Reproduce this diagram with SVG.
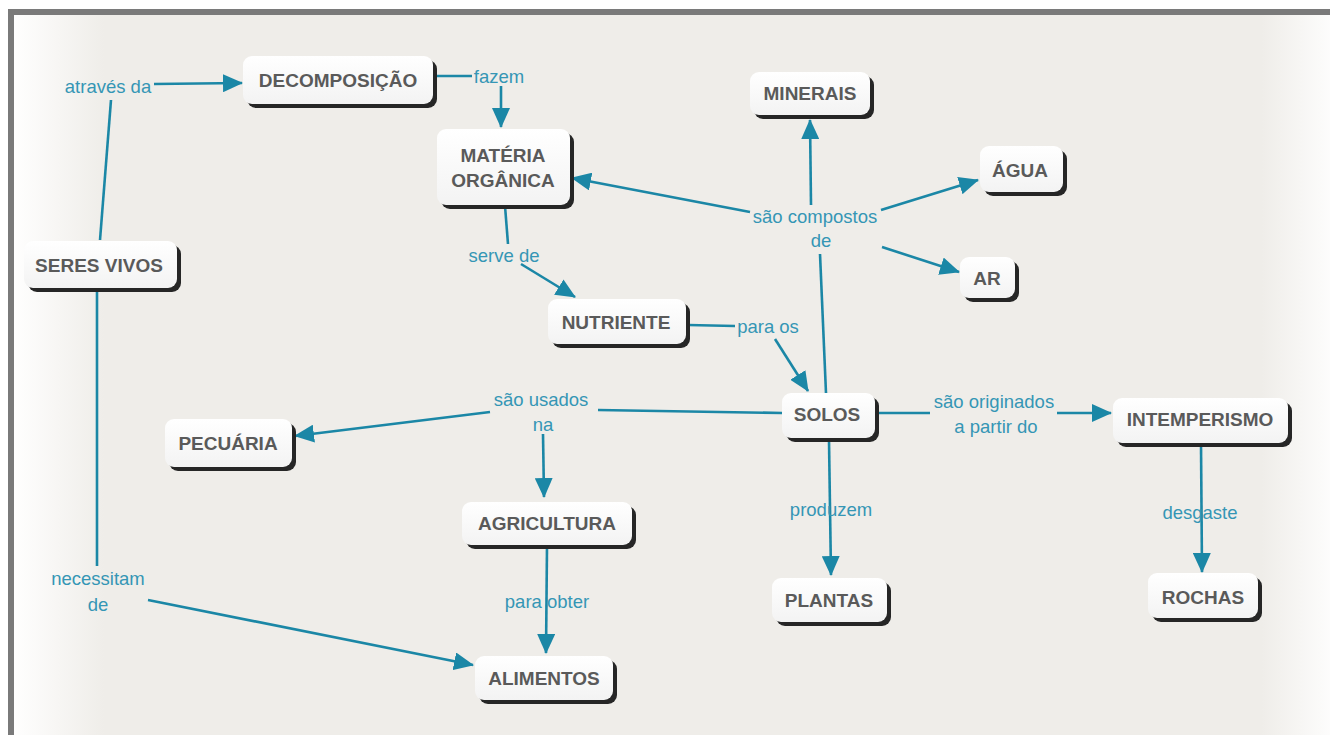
<svg xmlns="http://www.w3.org/2000/svg" width="1330" height="735" viewBox="0 0 1330 735">
<defs>
<linearGradient id="bg" x1="0" y1="0" x2="1" y2="0">
<stop offset="0" stop-color="#ffffff"/>
<stop offset="0.07" stop-color="#efede9"/>
<stop offset="0.94" stop-color="#efede9"/>
<stop offset="1" stop-color="#ffffff"/>
</linearGradient>
<linearGradient id="nf" x1="0" y1="0" x2="0" y2="1">
<stop offset="0" stop-color="#ffffff"/>
<stop offset="1" stop-color="#f3f3f3"/>
</linearGradient>
<marker id="arr" viewBox="0 0 20 18" refX="19" refY="9" markerWidth="20" markerHeight="18" orient="auto" markerUnits="userSpaceOnUse">
<path d="M0,0 L20,9 L0,18 z" fill="#1b87a6"/>
</marker>
<style>
.sh{fill:#262626}
.bx{fill:url(#nf)}
.nt{font-family:"Liberation Sans",Arial,sans-serif;font-weight:bold;font-size:19px;fill:#5a5a5a;text-anchor:middle}
.lt{font-family:"Liberation Sans",Arial,sans-serif;font-size:18.5px;fill:#3596b5;text-anchor:middle}
.ln{stroke:#1b87a6;stroke-width:2.6;fill:none}
.ar{marker-end:url(#arr)}
</style>
</defs>
<rect x="0" y="0" width="1330" height="735" fill="#ffffff"/>
<rect x="11" y="12" width="1330" height="740" fill="url(#bg)" stroke="#7a7a7a" stroke-width="6"/>

<g id="connectors">
<line class="ln" x1="100" y1="240" x2="111" y2="100"/>
<line class="ln ar" x1="154" y1="84" x2="242" y2="83"/>
<line class="ln" x1="97" y1="289" x2="97" y2="566"/>
<line class="ln ar" x1="148" y1="600" x2="473" y2="665"/>
<line class="ln" x1="435" y1="76" x2="472" y2="76"/>
<line class="ln ar" x1="501" y1="86" x2="501" y2="127"/>
<line class="ln" x1="826" y1="393" x2="820" y2="254"/>
<line class="ln ar" x1="750" y1="212" x2="572" y2="178"/>
<line class="ln ar" x1="811" y1="205" x2="810" y2="120"/>
<line class="ln ar" x1="881" y1="210" x2="978" y2="180"/>
<line class="ln ar" x1="882" y1="247" x2="959" y2="272"/>
<line class="ln" x1="505" y1="206" x2="508" y2="244"/>
<line class="ln ar" x1="521" y1="264" x2="575" y2="297"/>
<line class="ln" x1="688" y1="325" x2="735" y2="326"/>
<line class="ln ar" x1="775" y1="339" x2="808" y2="391"/>
<line class="ln" x1="782" y1="413" x2="598" y2="410"/>
<line class="ln ar" x1="490" y1="412" x2="295" y2="436"/>
<line class="ln ar" x1="543" y1="434" x2="544" y2="497"/>
<line class="ln ar" x1="547" y1="546" x2="546" y2="653"/>
<line class="ln ar" x1="829" y1="440" x2="831" y2="575"/>
<line class="ln" x1="877" y1="413" x2="930" y2="413"/>
<line class="ln ar" x1="1057" y1="413" x2="1111" y2="413"/>
<line class="ln ar" x1="1201" y1="444" x2="1202" y2="572"/>
</g>

<g id="labels">
<text class="lt" x="108" y="93">através da</text>
<text class="lt" x="499" y="83">fazem</text>
<text class="lt" x="815" y="223">são compostos</text>
<text class="lt" x="821" y="247">de</text>
<text class="lt" x="504" y="262">serve de</text>
<text class="lt" x="768" y="333">para os</text>
<text class="lt" x="541" y="406">são usados</text>
<text class="lt" x="543" y="431">na</text>
<text class="lt" x="994" y="408">são originados</text>
<text class="lt" x="996" y="433">a partir do</text>
<text class="lt" x="831" y="516">produzem</text>
<text class="lt" x="547" y="608">para obter</text>
<text class="lt" x="1200" y="519">desgaste</text>
<text class="lt" x="98" y="585">necessitam</text>
<text class="lt" x="98" y="611">de</text>
</g>

<g id="n-decomposicao"><rect class="sh" x="247" y="60" width="190" height="48" rx="9"/><rect class="bx" x="243" y="56" width="190" height="48" rx="9"/><text class="nt" x="338" y="87">DECOMPOSIÇÃO</text></g>
<g id="n-seres-vivos"><rect class="sh" x="28" y="245" width="153" height="47" rx="9"/><rect class="bx" x="24" y="241" width="153" height="47" rx="9"/><text class="nt" x="99" y="272">SERES VIVOS</text></g>
<g id="n-materia-organica"><rect class="sh" x="441" y="133" width="133" height="76" rx="9"/><rect class="bx" x="437" y="129" width="133" height="76" rx="9"/><text class="nt" x="503" y="162">MATÉRIA</text><text class="nt" x="503" y="187">ORGÂNICA</text></g>
<g id="n-minerais"><rect class="sh" x="754" y="76" width="120" height="43" rx="9"/><rect class="bx" x="750" y="72" width="120" height="43" rx="9"/><text class="nt" x="810" y="100">MINERAIS</text></g>
<g id="n-agua"><rect class="sh" x="984" y="150" width="83" height="46" rx="9"/><rect class="bx" x="980" y="146" width="83" height="46" rx="9"/><text class="nt" x="1020" y="177">ÁGUA</text></g>
<g id="n-ar"><rect class="sh" x="964" y="261" width="55" height="41" rx="9"/><rect class="bx" x="960" y="257" width="55" height="41" rx="9"/><text class="nt" x="987" y="285">AR</text></g>
<g id="n-nutriente"><rect class="sh" x="552" y="303" width="138" height="45" rx="9"/><rect class="bx" x="548" y="299" width="138" height="45" rx="9"/><text class="nt" x="616" y="329">NUTRIENTE</text></g>
<g id="n-solos"><rect class="sh" x="786" y="397" width="93" height="45" rx="9"/><rect class="bx" x="782" y="393" width="93" height="45" rx="9"/><text class="nt" x="827" y="421">SOLOS</text></g>
<g id="n-intemperismo"><rect class="sh" x="1117" y="402" width="175" height="45" rx="9"/><rect class="bx" x="1113" y="398" width="175" height="45" rx="9"/><text class="nt" x="1200" y="426">INTEMPERISMO</text></g>
<g id="n-pecuaria"><rect class="sh" x="169" y="423" width="127" height="48" rx="9"/><rect class="bx" x="165" y="419" width="127" height="48" rx="9"/><text class="nt" x="228" y="450">PECUÁRIA</text></g>
<g id="n-agricultura"><rect class="sh" x="466" y="506" width="170" height="43" rx="9"/><rect class="bx" x="462" y="502" width="170" height="43" rx="9"/><text class="nt" x="547" y="530">AGRICULTURA</text></g>
<g id="n-plantas"><rect class="sh" x="776" y="582" width="115" height="44" rx="9"/><rect class="bx" x="772" y="578" width="115" height="44" rx="9"/><text class="nt" x="829" y="607">PLANTAS</text></g>
<g id="n-rochas"><rect class="sh" x="1152" y="577" width="110" height="45" rx="9"/><rect class="bx" x="1148" y="573" width="110" height="45" rx="9"/><text class="nt" x="1203" y="604">ROCHAS</text></g>
<g id="n-alimentos"><rect class="sh" x="479" y="660" width="138" height="44" rx="9"/><rect class="bx" x="475" y="656" width="138" height="44" rx="9"/><text class="nt" x="544" y="685">ALIMENTOS</text></g>
</svg>
